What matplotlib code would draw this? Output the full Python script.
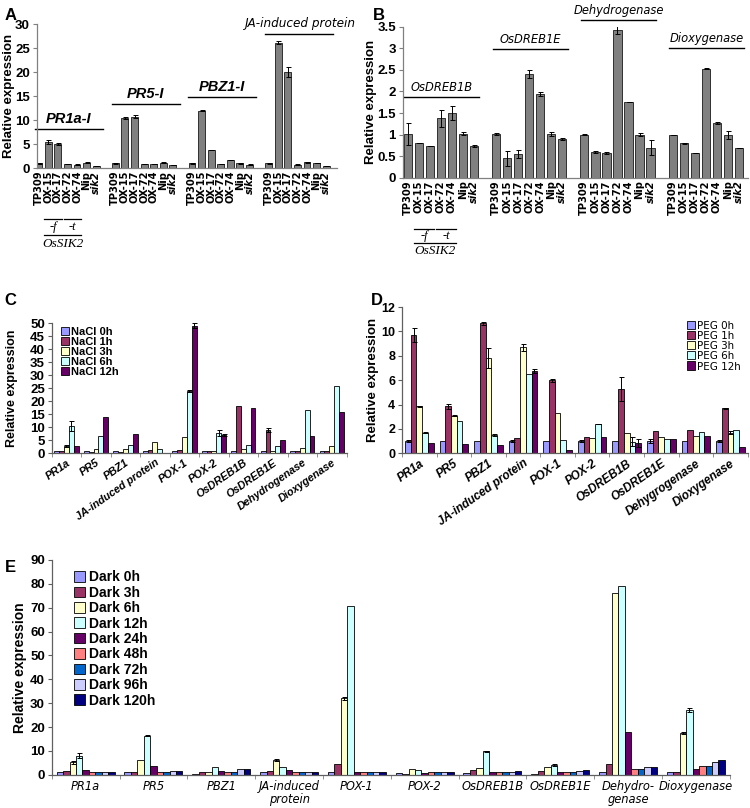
import numpy as np
import matplotlib
matplotlib.use("Agg")
import matplotlib.pyplot as plt
from matplotlib import font_manager as fm
from matplotlib.patches import Patch

plt.rcParams['font.family'] = ['Liberation Sans', 'DejaVu Sans']

# narrow face if one is installed, otherwise plain Liberation Sans a bit smaller
_names = {f.name for f in fm.fontManager.ttflist}
_cond = [f for f in fm.fontManager.ttflist
         if 'Condensed' in f.fname and f.name == 'DejaVu Sans']
if 'Liberation Sans Narrow' in _names:
    NARROW = dict(family='Liberation Sans Narrow')
    NSCALE = 1.0
elif _cond:
    NARROW = dict(family='DejaVu Sans', stretch='condensed')
    NSCALE = 0.92
else:
    NARROW = dict(family='Liberation Sans')
    NSCALE = 0.85
SERIF = ['Liberation Serif', 'DejaVu Serif']

# ---- data ----
lines_ab = ['TP309', 'OX-15', 'OX-17', 'OX-72', 'OX-74', 'Nip', 'sik2']

a_genes = ['PR1a-I', 'PR5-I', 'PBZ1-I', 'JA-induced protein']
a_vals = [[1.0, 5.4, 5.1, 0.9, 0.7, 1.1, 0.4],
          [1.0, 10.4, 10.7, 0.9, 0.9, 1.1, 0.6],
          [1.0, 12.0, 3.8, 0.8, 1.6, 1.0, 0.7],
          [1.0, 26.1, 20.0, 0.7, 1.2, 1.0, 0.4]]
a_err = [[0.05, 0.4, 0.2, 0.05, 0.05, 0.1, 0.05],
         [0.05, 0.2, 0.3, 0.05, 0.05, 0.1, 0.05],
         [0.05, 0.2, 0.05, 0.05, 0.0, 0.05, 0.05],
         [0.05, 0.3, 1.1, 0.05, 0.1, 0.0, 0.05]]
a_line_y = [8.2, 13.3, 14.8, 28.0]

b_genes = ['OsDREB1B', 'OsDREB1E', 'Dehydrogenase', 'Dioxygenase']
b_vals = [[1.02, 0.80, 0.73, 1.38, 1.50, 1.02, 0.73],
          [1.02, 0.45, 0.55, 2.40, 1.94, 1.02, 0.90],
          [1.00, 0.60, 0.58, 3.43, 1.75, 1.00, 0.70],
          [0.99, 0.80, 0.57, 2.53, 1.27, 0.99, 0.70]]
b_err = [[0.25, 0.0, 0.0, 0.20, 0.17, 0.03, 0.02],
         [0.02, 0.17, 0.10, 0.09, 0.04, 0.05, 0.02],
         [0.01, 0.02, 0.02, 0.10, 0.0, 0.04, 0.17],
         [0.0, 0.01, 0.0, 0.01, 0.03, 0.10, 0.0]]
b_line_y = [1.87, 2.98, 3.66, 3.0]

genes_cd = ['PR1a', 'PR5', 'PBZ1', 'JA-induced protein', 'POX-1', 'POX-2',
            'OsDREB1B', 'OsDREB1E', 'Dehydrogenase', 'Dioxygenase']
genes_d = genes_cd[:8] + ['Dehygrogenase', 'Dioxygenase']

nacl_labels = ['NaCl 0h', 'NaCl 1h', 'NaCl 3h', 'NaCl 6h', 'NaCl 12h']
nacl = [[1, 1, 2.8, 10.5, 2.8],
        [1, 0.5, 1.8, 6.5, 13.8],
        [1, 0.5, 1.5, 3.2, 7.3],
        [1, 1.2, 4.3, 1.5, 0.3],
        [1, 1.2, 6.2, 24, 49],
        [1, 1, 1, 7.8, 7.0],
        [1, 18, 1.5, 3.2, 17.3],
        [1, 8.8, 1, 2.7, 5.2],
        [1, 1, 2.2, 16.8, 6.8],
        [1, 1, 2.8, 26, 15.7]]
nacl_err = [[0, 0, 0.3, 2.0, 0],
            [0, 0, 0, 0, 0],
            [0, 0, 0, 0, 0],
            [0, 0, 0, 0, 0],
            [0, 0, 0, 0.3, 1.0],
            [0, 0, 0, 1.0, 0.3],
            [0, 0, 0, 0, 0],
            [0, 0.8, 0, 0, 0],
            [0, 0, 0, 0, 0],
            [0, 0, 0, 0, 0]]

peg_labels = ['PEG 0h', 'PEG 1h', 'PEG 3h', 'PEG 6h', 'PEG 12h']
peg = [[1.0, 9.7, 3.85, 1.7, 0.85],
       [1.0, 3.85, 3.1, 2.65, 0.8],
       [1.0, 10.65, 7.8, 1.5, 0.7],
       [1.0, 1.25, 8.7, 6.5, 6.75],
       [1.0, 6.0, 3.3, 1.1, 0.3],
       [1.0, 1.35, 1.25, 2.4, 1.35],
       [1.0, 5.3, 1.7, 0.95, 0.85],
       [1.0, 1.8, 1.35, 1.15, 1.2],
       [1.0, 1.9, 1.45, 1.75, 1.4],
       [1.0, 3.7, 1.7, 1.95, 0.55]]
peg_err = [[0.1, 0.6, 0.03, 0.05, 0],
           [0, 0.2, 0.08, 0, 0],
           [0, 0.1, 0.8, 0.05, 0],
           [0.05, 0, 0.3, 0, 0.15],
           [0, 0.12, 0, 0, 0],
           [0.05, 0, 0, 0.03, 0],
           [0, 1.0, 0, 0.35, 0.3],
           [0.15, 0, 0, 0, 0],
           [0, 0, 0, 0, 0],
           [0.1, 0.05, 0.1, 0, 0]]

dark_labels = ['Dark 0h', 'Dark 3h', 'Dark 6h', 'Dark 12h', 'Dark 24h',
               'Dark 48h', 'Dark 72h', 'Dark 96h', 'Dark 120h']
genes_e = ['PR1a', 'PR5', 'PBZ1', 'JA-induced\nprotein', 'POX-1', 'POX-2',
           'OsDREB1B', 'OsDREB1E', 'Dehydro-\ngenase', 'Dioxygenase']
dark = [[1, 1.5, 5.2, 8.0, 2.0, 1.0, 1.0, 1.0, 1.0],
        [1, 1.2, 6.2, 16.3, 3.8, 1.2, 1.2, 1.5, 1.5],
        [0.5, 1.1, 1.3, 3.2, 1.5, 1.0, 1.2, 2.5, 2.5],
        [1, 1.5, 6.3, 3.4, 2.2, 1.2, 1.0, 1.0, 1.0],
        [1, 4.5, 32, 70.8, 1.2, 1.2, 1.2, 1.2, 1.2],
        [0.8, 0.5, 2.3, 2.0, 0.8, 1.2, 1.2, 1.2, 1.2],
        [0.8, 2.2, 3.0, 9.8, 1.2, 1.0, 1.0, 1.2, 1.5],
        [0.5, 1.5, 3.5, 4.0, 1.2, 1.0, 1.0, 1.5, 2.0],
        [1, 4.5, 76, 79, 18, 2.5, 2.5, 3.5, 3.5],
        [1, 1, 17.5, 27, 2.5, 3.8, 3.8, 5.3, 6.3]]
dark_err = [[0, 0, 0.5, 1.0, 0, 0, 0, 0, 0],
            [0, 0, 0, 0.2, 0, 0, 0, 0, 0],
            [0, 0, 0, 0, 0, 0, 0, 0, 0],
            [0, 0, 0.3, 0, 0, 0, 0, 0, 0],
            [0, 0, 0.5, 0, 0, 0, 0, 0, 0],
            [0, 0, 0, 0, 0, 0, 0, 0, 0],
            [0, 0, 0, 0.2, 0, 0, 0, 0, 0],
            [0, 0, 0, 0.4, 0, 0, 0, 0, 0],
            [0, 0, 0, 0, 0, 0, 0, 0, 0],
            [0, 0, 0.4, 0.8, 0, 0, 0, 0, 0]]

col5 = ['#9999FF', '#993366', '#FFFFCC', '#CCFFFF', '#660066']
col9 = ['#9999FF', '#993366', '#FFFFCC', '#CCFFFF', '#660066',
        '#FF8080', '#0066CC', '#CCCCFF', '#000080']

fig = plt.figure(figsize=(7.5, 8.08), dpi=100)


def base_style(ax, spine_col='#808080', ysize=9.5):
    for s in ['top', 'right']:
        ax.spines[s].set_visible(False)
    for s in ['left', 'bottom']:
        ax.spines[s].set_color(spine_col)
        ax.spines[s].set_linewidth(0.9)
    ax.tick_params(axis='y', direction='out', length=3, width=0.8,
                   color=spine_col, labelsize=ysize, pad=2)
    for t in ax.get_yticklabels():
        t.set_fontweight('bold')


def ylab(ax, x, size=9.5):
    ax.set_ylabel('Relative expression', fontsize=size, fontweight='bold')
    ax.yaxis.set_label_coords(x, 0.5)


def line_panel(ax, vals, errs, ylim, yticks, ytl, bw):
    pos = []
    for g, (v, e) in enumerate(zip(vals, errs)):
        x = g * 8 + np.arange(7)
        pos.extend(x)
        ax.bar(x, v, bw, color='#808080', edgecolor='#303030', linewidth=0.7,
               yerr=e, error_kw=dict(ecolor='black', elinewidth=0.7,
                                     capsize=1.8, capthick=0.7), zorder=2)
    ax.set_ylim(*ylim)
    ax.set_yticks(yticks)
    ax.set_yticklabels(ytl)
    base_style(ax)
    ax.set_xticks(pos)
    ax.set_xticklabels(lines_ab * 4, rotation=90, fontsize=8.6 * NSCALE,
                       fontweight='bold', **NARROW)
    for t in ax.get_xticklabels():
        if t.get_text() == 'sik2':
            t.set_fontstyle('italic')
    ax.tick_params(axis='x', length=0, pad=2)


def under_marks(ax, y1, y2, y3, y4):
    tr = ax.get_xaxis_transform()
    for x0, x1, s in [(0.6, 2.4, '-f'), (2.6, 4.4, '-t')]:
        ax.plot([x0, x1], [y1, y1], color='black', lw=0.9, transform=tr,
                clip_on=False)
        ax.text((x0 + x1) / 2, y2, s, transform=tr, ha='center', va='center',
                fontsize=9, style='italic', family=SERIF)
    ax.plot([0.6, 4.4], [y3, y3], color='black', lw=0.9, transform=tr,
            clip_on=False)
    ax.text(2.5, y4, 'OsSIK2', transform=tr, ha='center', va='center',
            fontsize=9.5, style='italic', family=SERIF)


# ---- panel A ----
axA = fig.add_axes([0.049, 0.792, 0.40, 0.178])
line_panel(axA, a_vals, a_err, (0, 30), range(0, 31, 5),
           [str(v) for v in range(0, 31, 5)], 0.72)
axA.set_xlim(-0.2, 31.1)
ylab(axA, -0.072)
for g, (name, ly) in enumerate(zip(a_genes, a_line_y)):
    axA.plot([g * 8 - 0.4, g * 8 + 6.7], [ly, ly], color='black', lw=1.0,
             clip_on=False)
    if g < 3:
        axA.text(g * 8 + 3.1, ly + 0.6, name, ha='center', va='bottom',
                 fontsize=10.5, fontweight='bold', style='italic')
    else:
        axA.text(g * 8 + 3.3, ly + 0.9, name, ha='center', va='bottom',
                 fontsize=10.5 * NSCALE, style='italic', **NARROW)
under_marks(axA, -0.355, -0.41, -0.465, -0.525)
fig.text(0.006, 0.99, 'A', fontsize=12, fontweight='bold', va='top')

# ---- panel B ----
axB = fig.add_axes([0.537, 0.780, 0.460, 0.187])
line_panel(axB, b_vals, b_err, (0, 3.5), np.arange(0, 3.51, 0.5),
           ['0', '0.5', '1', '1.5', '2', '2.5', '3', '3.5'], 0.75)
axB.set_xlim(-0.45, 30.8)
ylab(axB, -0.075)
for g, (name, ly) in enumerate(zip(b_genes, b_line_y)):
    axB.plot([g * 8 - 0.3, g * 8 + 6.5], [ly, ly], color='black', lw=1.0,
             clip_on=False)
    axB.text(g * 8 + 3.1, ly + 0.07, name, ha='center', va='bottom',
             fontsize=10 * NSCALE, style='italic', **NARROW)
under_marks(axB, -0.34, -0.385, -0.43, -0.485)
fig.text(0.497, 0.99, 'B', fontsize=12, fontweight='bold', va='top')


# ---- grouped panels ----
def grouped(ax, data, errs, colors, bw):
    data = np.array(data, dtype=float)
    errs = np.array(errs, dtype=float)
    n = data.shape[1]
    x = np.arange(data.shape[0])
    for j in range(n):
        off = (j - (n - 1) / 2) * bw
        e = np.where(errs[:, j] > 0, errs[:, j], np.nan)
        ax.bar(x + off, data[:, j], bw, color=colors[j], edgecolor='black',
               linewidth=0.6, zorder=2)
        ax.errorbar(x + off, data[:, j], yerr=e, fmt='none', ecolor='black',
                    elinewidth=0.7, capsize=1.8, capthick=0.7, zorder=3)
    ax.set_xlim(-0.5, data.shape[0] - 0.5)
    ax.set_xticks(x)
    ax.set_xticks(np.arange(-0.5, data.shape[0]), minor=True)
    ax.tick_params(axis='x', which='major', length=0)
    ax.tick_params(axis='x', which='minor', length=3, direction='out',
                   color='#808080')


axC = fig.add_axes([0.069, 0.439, 0.393, 0.161])
grouped(axC, nacl, nacl_err, col5, 0.165)
axC.set_ylim(0, 50)
axC.set_yticks(range(0, 51, 5))
base_style(axC, '#606060')
axC.set_xticklabels(genes_cd, rotation=35, ha='right', va='top',
                    rotation_mode='anchor', fontsize=7.8, fontweight='bold',
                    style='italic')
axC.tick_params(axis='x', which='major', pad=3)
ylab(axC, -0.115, 9)
axC.legend([Patch(facecolor=c, edgecolor='black', lw=0.6) for c in col5],
           nacl_labels, loc='upper left', bbox_to_anchor=(0.01, 1.02),
           frameon=False, prop=dict(weight='bold', size=8),
           handlelength=0.7, handleheight=0.7, handletextpad=0.2,
           labelspacing=0.0, borderpad=0.1)
fig.text(0.006, 0.637, 'C', fontsize=12, fontweight='bold', va='top')

axD = fig.add_axes([0.536, 0.439, 0.461, 0.181])
grouped(axD, peg, peg_err, col5, 0.165)
axD.set_ylim(0, 12)
axD.set_yticks(range(0, 13, 2))
base_style(axD, '#606060', ysize=9)
axD.set_xticklabels(genes_d, rotation=35, ha='right', va='top',
                    rotation_mode='anchor', fontsize=8.5, fontweight='bold',
                    style='italic')
axD.tick_params(axis='x', which='major', pad=3)
ylab(axD, -0.066, 9.5)
axD.legend([Patch(facecolor=c, edgecolor='black', lw=0.6) for c in col5],
           peg_labels, loc='upper right', bbox_to_anchor=(1.0, 0.95),
           frameon=False, prop=dict(size=9 * NSCALE, **NARROW),
           handlelength=0.7, handleheight=0.7, handletextpad=0.2,
           labelspacing=0.0, borderpad=0.1)
fig.text(0.495, 0.637, 'D', fontsize=12, fontweight='bold', va='top')

# ---- panel E ----
axE = fig.add_axes([0.069, 0.041, 0.904, 0.266])
grouped(axE, dark, dark_err, col9, 0.095)
axE.set_ylim(0, 90)
axE.set_yticks(range(0, 91, 10))
base_style(axE, '#606060')
axE.set_xticklabels(genes_e, fontsize=10 * NSCALE, style='italic',
                    linespacing=0.95, **NARROW)
axE.tick_params(axis='x', which='major', pad=4)
ylab(axE, -0.036, 10)
axE.legend([Patch(facecolor=c, edgecolor='black', lw=0.6) for c in col9],
           dark_labels, loc='upper left', bbox_to_anchor=(0.02, 0.99),
           frameon=False, prop=dict(weight='bold', size=10),
           handlelength=0.8, handleheight=0.8, handletextpad=0.3,
           labelspacing=0.1, borderpad=0.1)
fig.text(0.006, 0.307, 'E', fontsize=12, fontweight='bold', va='top')

fig.savefig('out.png', dpi=100)
